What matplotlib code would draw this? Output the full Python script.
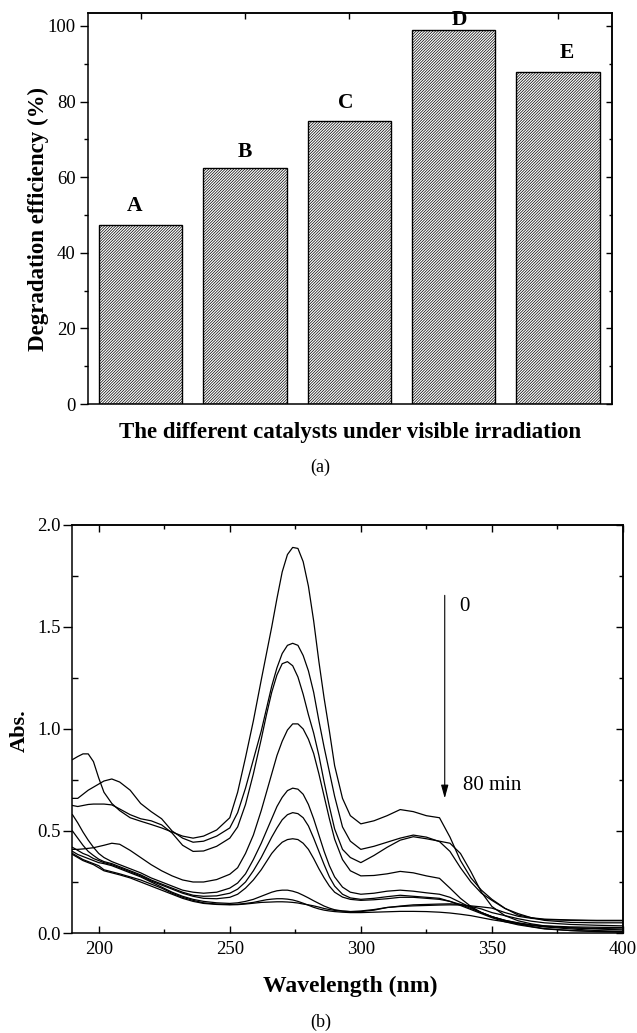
import matplotlib
matplotlib.use("Agg")
import matplotlib.pyplot as plt
from matplotlib.ticker import MultipleLocator, NullFormatter

plt.rcParams['font.family'] = ['Liberation Serif', 'DejaVu Serif']
plt.rcParams['hatch.linewidth'] = 0.5

# (a) degradation efficiency of the catalysts
catalysts = ['A', 'B', 'C', 'D', 'E']
efficiency = [47.3, 62.3, 74.9, 98.8, 87.7]

# (b) UV-vis spectra, 0 -> 80 min
wavelength = [190, 192, 194, 196, 198, 200, 202, 205, 208, 212,
              216, 220, 224, 228, 232, 236, 240, 245, 250, 253,
              256, 259, 262, 264, 266, 268, 270, 272, 274, 276,
              278, 280, 282, 284, 286, 288, 290, 293, 296, 300,
              305, 310, 315, 320, 325, 330, 334, 338, 342, 346,
              350, 355, 360, 365, 370, 380, 390, 400]

abs_1 = [0.85, 0.865, 0.878, 0.878, 0.84, 0.76, 0.69, 0.635, 0.60, 0.565,
         0.548, 0.532, 0.515, 0.495, 0.475, 0.465, 0.475, 0.505, 0.565, 0.69,
         0.86, 1.04, 1.24, 1.37, 1.50, 1.64, 1.77, 1.855, 1.89, 1.885,
         1.82, 1.70, 1.53, 1.33, 1.15, 0.99, 0.82, 0.66, 0.575, 0.535,
         0.55, 0.575, 0.605, 0.595, 0.575, 0.565, 0.47, 0.355, 0.27, 0.21,
         0.165, 0.121, 0.088, 0.075, 0.068, 0.064, 0.062, 0.062]
abs_2 = [0.66, 0.66, 0.68, 0.70, 0.715, 0.73, 0.745, 0.755, 0.74, 0.70,
         0.635, 0.595, 0.56, 0.50, 0.465, 0.445, 0.45, 0.475, 0.515, 0.59,
         0.71, 0.85, 0.99, 1.10, 1.21, 1.30, 1.37, 1.41, 1.42, 1.41,
         1.36, 1.285, 1.18, 1.04, 0.91, 0.79, 0.67, 0.52, 0.45, 0.41,
         0.425, 0.445, 0.465, 0.48, 0.47, 0.448, 0.40, 0.32, 0.25, 0.195,
         0.16, 0.12, 0.095, 0.075, 0.062, 0.052, 0.05, 0.05]
abs_3 = [0.625, 0.62, 0.625, 0.63, 0.632, 0.632, 0.632, 0.628, 0.608, 0.58,
         0.56, 0.55, 0.53, 0.49, 0.43, 0.40, 0.402, 0.425, 0.465, 0.52,
         0.63, 0.78, 0.95, 1.07, 1.18, 1.265, 1.32, 1.33, 1.31, 1.255,
         1.17, 1.07, 0.98, 0.87, 0.74, 0.62, 0.51, 0.41, 0.37, 0.345,
         0.38, 0.42, 0.455, 0.472, 0.462, 0.45, 0.44, 0.39, 0.30, 0.20,
         0.13, 0.085, 0.06, 0.045, 0.035, 0.025, 0.02, 0.015]
abs_4 = [0.41, 0.41, 0.412, 0.415, 0.418, 0.424, 0.43, 0.44, 0.435, 0.405,
         0.37, 0.335, 0.305, 0.28, 0.26, 0.25, 0.25, 0.262, 0.288, 0.32,
         0.39, 0.48, 0.60, 0.69, 0.78, 0.87, 0.94, 0.995, 1.025, 1.025,
         1.00, 0.95, 0.88, 0.78, 0.67, 0.56, 0.46, 0.36, 0.305, 0.28,
         0.282, 0.29, 0.302, 0.295, 0.28, 0.268, 0.22, 0.17, 0.13, 0.10,
         0.08, 0.062, 0.05, 0.04, 0.035, 0.03, 0.028, 0.027]
abs_5 = [0.58, 0.54, 0.495, 0.455, 0.42, 0.39, 0.37, 0.35, 0.335, 0.315,
         0.295, 0.27, 0.25, 0.23, 0.21, 0.20, 0.195, 0.20, 0.22, 0.245,
         0.29, 0.36, 0.44, 0.50, 0.56, 0.62, 0.665, 0.698, 0.71, 0.705,
         0.68, 0.63, 0.56, 0.48, 0.40, 0.33, 0.275, 0.225, 0.20, 0.19,
         0.195, 0.205, 0.21, 0.205, 0.197, 0.19, 0.175, 0.15, 0.125, 0.10,
         0.08, 0.06, 0.045, 0.032, 0.022, 0.012, 0.007, 0.005]
abs_6 = [0.50, 0.465, 0.43, 0.40, 0.38, 0.362, 0.35, 0.34, 0.325, 0.305,
         0.285, 0.26, 0.24, 0.22, 0.20, 0.185, 0.18, 0.182, 0.195, 0.215,
         0.25, 0.305, 0.37, 0.42, 0.47, 0.515, 0.555, 0.58, 0.59, 0.585,
         0.565, 0.525, 0.465, 0.40, 0.335, 0.275, 0.23, 0.19, 0.172, 0.165,
         0.17, 0.178, 0.185, 0.18, 0.175, 0.17, 0.155, 0.135, 0.115, 0.095,
         0.075, 0.055, 0.04, 0.03, 0.02, 0.012, 0.008, 0.005]
abs_7 = [0.42, 0.405, 0.39, 0.38, 0.365, 0.355, 0.345, 0.335, 0.32, 0.30,
         0.28, 0.255, 0.235, 0.215, 0.195, 0.18, 0.17, 0.168, 0.175, 0.19,
         0.22, 0.26, 0.31, 0.35, 0.39, 0.42, 0.445, 0.458, 0.462, 0.458,
         0.44, 0.41, 0.365, 0.315, 0.27, 0.23, 0.20, 0.176, 0.165, 0.16,
         0.163, 0.168, 0.175, 0.175, 0.17, 0.165, 0.155, 0.14, 0.12, 0.10,
         0.08, 0.062, 0.048, 0.038, 0.032, 0.026, 0.022, 0.02]
abs_8 = [0.40, 0.385, 0.375, 0.365, 0.355, 0.345, 0.34, 0.33, 0.315, 0.295,
         0.275, 0.25, 0.225, 0.20, 0.18, 0.165, 0.155, 0.148, 0.145, 0.148,
         0.155, 0.165, 0.18, 0.19, 0.20, 0.207, 0.21, 0.21, 0.205, 0.197,
         0.185, 0.172, 0.158, 0.145, 0.132, 0.122, 0.114, 0.108, 0.105, 0.105,
         0.112, 0.125, 0.13, 0.133, 0.135, 0.137, 0.138, 0.137, 0.133, 0.128,
         0.122, 0.10, 0.082, 0.072, 0.066, 0.062, 0.06, 0.06]
abs_9 = [0.39, 0.375, 0.36, 0.35, 0.34, 0.33, 0.31, 0.30, 0.29, 0.275,
         0.26, 0.24, 0.22, 0.195, 0.175, 0.16, 0.148, 0.142, 0.14, 0.141,
         0.145, 0.15, 0.158, 0.163, 0.166, 0.168, 0.168, 0.166, 0.162, 0.155,
         0.146, 0.136, 0.126, 0.118, 0.112, 0.108, 0.105, 0.102, 0.10, 0.10,
         0.102, 0.104, 0.106, 0.106, 0.105, 0.102, 0.098, 0.092, 0.085, 0.075,
         0.065, 0.055, 0.045, 0.038, 0.03, 0.02, 0.012, 0.008]
abs_10 = [0.385, 0.37, 0.355, 0.345, 0.335, 0.32, 0.305, 0.295, 0.285, 0.27,
          0.25, 0.23, 0.21, 0.19, 0.17, 0.155, 0.145, 0.14, 0.138, 0.139,
          0.142, 0.146, 0.15, 0.151, 0.152, 0.153, 0.153, 0.152, 0.15, 0.147,
          0.142, 0.138, 0.133, 0.127, 0.12, 0.115, 0.111, 0.107, 0.105, 0.108,
          0.115, 0.125, 0.132, 0.138, 0.14, 0.142, 0.143, 0.14, 0.13, 0.118,
          0.10, 0.085, 0.07, 0.058, 0.05, 0.042, 0.038, 0.035]
spectra = [abs_1, abs_2, abs_3, abs_4, abs_5, abs_6, abs_7, abs_8, abs_9, abs_10]

fig = plt.figure(figsize=(6.37, 10.33), dpi=100)

# ---- panel (a) ----
ax1 = fig.add_axes([0.1374, 0.6089, 0.8234, 0.3788])
x = range(len(catalysts))
ax1.bar(x, efficiency, width=0.8, color='white', edgecolor='black',
        hatch='/' * 12, linewidth=1.0)
# small nudges so the letters sit like in the original
lab_dx = [-0.06, 0.0, -0.03, 0.06, 0.09]
lab_dy = [2.3, 1.6, 2.0, 0.2, 2.6]
for i, (c, v) in enumerate(zip(catalysts, efficiency)):
    ax1.text(i + lab_dx[i], v + lab_dy[i], c, ha='center', va='bottom',
             fontsize=15.5, fontweight='bold', clip_on=False)
ax1.set_xlim(-0.51, 4.52)
ax1.set_ylim(0, 103.5)
ax1.yaxis.set_major_locator(MultipleLocator(20))
ax1.yaxis.set_minor_locator(MultipleLocator(10))
ax1.tick_params(axis='y', which='major', direction='out', length=5.5, width=1.0,
                labelsize=13.5, pad=3)
ax1.tick_params(axis='y', which='minor', direction='out', length=3, width=1.0)
ax1.tick_params(axis='x', bottom=False, labelbottom=False)
for s in ax1.spines.values():
    s.set_linewidth(1.1)

r1 = ax1.secondary_yaxis('right')
r1.yaxis.set_major_locator(MultipleLocator(20))
r1.yaxis.set_minor_locator(MultipleLocator(10))
r1.yaxis.set_major_formatter(NullFormatter())
r1.tick_params(which='major', direction='in', length=4, width=1.0)
r1.tick_params(which='minor', direction='in', length=2.5, width=1.0)
r1.spines['right'].set_linewidth(1.1)

t1 = ax1.secondary_xaxis('top')
t1.set_xticks(list(x))
t1.xaxis.set_major_formatter(NullFormatter())
t1.tick_params(direction='in', length=4, width=1.0)
t1.spines['top'].set_linewidth(1.1)

ax1.set_ylabel('Degradation efficiency (%)', fontsize=16.5, fontweight='bold', va='center')
ax1.yaxis.set_label_coords(-0.094, 0.473)
ax1.set_xlabel('The different catalysts under visible irradiation',
               fontsize=16.5, fontweight='bold', va='center')
ax1.xaxis.set_label_coords(0.5, -0.072)
fig.text(320 / 637, 1 - 467 / 1033, '(a)', ha='center', va='center', fontsize=13)

# ---- panel (b) ----
ax2 = fig.add_axes([0.1138, 0.0968, 0.8642, 0.395])
for a in spectra:
    ax2.plot(wavelength, a, color='black', lw=0.9)
ax2.set_xlim(190, 400)
ax2.set_ylim(0, 2.0)
ax2.xaxis.set_major_locator(MultipleLocator(50))
ax2.xaxis.set_minor_locator(MultipleLocator(25))
ax2.yaxis.set_major_locator(MultipleLocator(0.5))
ax2.yaxis.set_minor_locator(MultipleLocator(0.25))
ax2.tick_params(axis='x', which='major', direction='in', length=5, width=1.0,
                labelsize=13.5, pad=6)
ax2.tick_params(axis='x', which='minor', direction='in', length=3, width=1.0)
ax2.tick_params(axis='y', which='major', direction='out', length=6.5, width=1.0,
                labelsize=13.5, pad=2)
ax2.tick_params(axis='y', which='minor', direction='in', length=4, width=1.0)
for s in ax2.spines.values():
    s.set_linewidth(1.1)

r2 = ax2.secondary_yaxis('right')
r2.yaxis.set_major_locator(MultipleLocator(0.5))
r2.yaxis.set_minor_locator(MultipleLocator(0.25))
r2.yaxis.set_major_formatter(NullFormatter())
r2.tick_params(which='major', direction='in', length=5, width=1.0)
r2.tick_params(which='minor', direction='in', length=3, width=1.0)
r2.spines['right'].set_linewidth(1.1)

t2 = ax2.secondary_xaxis('top')
t2.xaxis.set_major_locator(MultipleLocator(50))
t2.xaxis.set_minor_locator(MultipleLocator(25))
t2.xaxis.set_major_formatter(NullFormatter())
t2.tick_params(which='major', direction='in', length=5, width=1.0)
t2.tick_params(which='minor', direction='in', length=3, width=1.0)
t2.spines['top'].set_linewidth(1.1)

ax2.annotate('', xy=(332, 0.66), xytext=(332, 1.655),
             arrowprops=dict(arrowstyle='-|>,head_length=0.8,head_width=0.22',
                             color='black', lw=0.8, mutation_scale=10,
                             shrinkA=0, shrinkB=0))
ax2.text(337.5, 1.60, '0', ha='left', va='center', fontsize=15)
ax2.text(339, 0.725, '80 min', ha='left', va='center', fontsize=15)

ax2.set_ylabel('Abs.', fontsize=16, fontweight='bold', va='center')
ax2.yaxis.set_label_coords(-0.095, 0.495)
ax2.set_xlabel('Wavelength (nm)', fontsize=17, fontweight='bold', va='center')
ax2.xaxis.set_label_coords(0.504, -0.13)
fig.text(321 / 637, 1 - 1022 / 1033, '(b)', ha='center', va='center', fontsize=13)

fig.savefig('out.png', dpi=100)
